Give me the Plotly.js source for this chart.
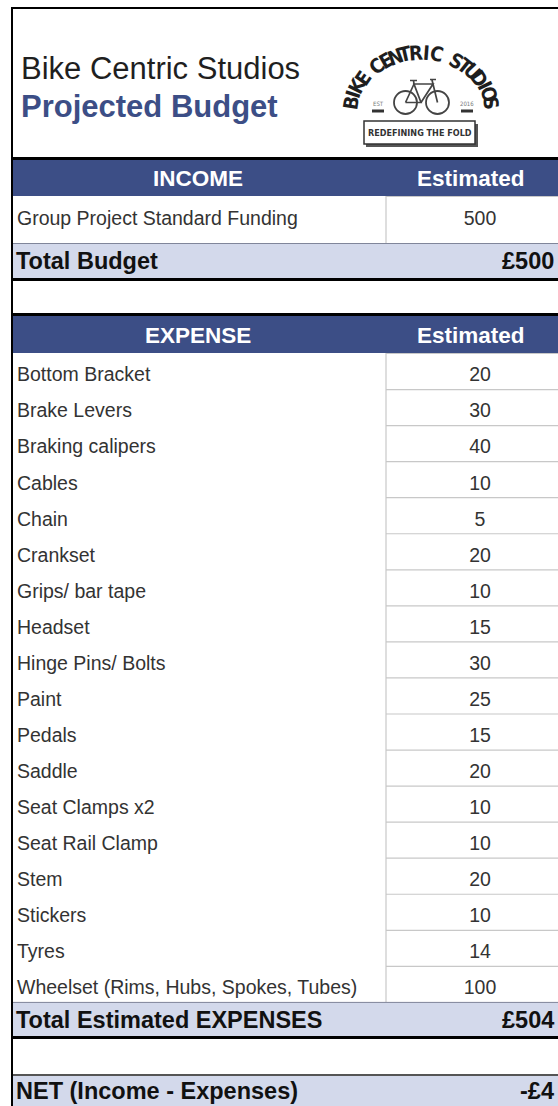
<!DOCTYPE html>
<html>
<head>
<meta charset="utf-8">
<script src="https://cdn.plot.ly/plotly-3.0.1.min.js"></script>
<style>html,body{margin:0;padding:0;background:#fff;}#chart{width:558px;height:1106px;}</style>
</head>
<body>
<div id="chart"></div>
<script>
// ---- data ----
const titleLine1 = "Bike Centric Studios";
const titleLine2 = "Projected Budget";
const incomeHeader = ["INCOME", "Estimated"];
const incomeLabels = ["Group Project Standard Funding"];
const incomeValues = [500];
const expenseHeader = ["EXPENSE", "Estimated"];
const expenseLabels = [
  "Bottom Bracket", "Brake Levers", "Braking calipers", "Cables", "Chain",
  "Crankset", "Grips/ bar tape", "Headset", "Hinge Pins/ Bolts", "Paint",
  "Pedals", "Saddle", "Seat Clamps x2", "Seat Rail Clamp", "Stem",
  "Stickers", "Tyres", "Wheelset (Rims, Hubs, Spokes, Tubes)"
];
const expenseValues = [20, 30, 40, 10, 5, 20, 10, 15, 30, 25, 15, 20, 10, 10, 20, 10, 14, 100];
const summaryLabels = ["Total Budget", "Total Estimated EXPENSES", "NET (Income - Expenses)"];
const summaryValues = ["£500", "£504", "-£4"];
const logoArcText = "BIKE CENTRIC STUDIOS";
const logoTagline = "REDEFINING THE FOLD";

// ---- geometry ----
const W = 558, H = 1106;
const L = 12, R = 558, DIV = 386;
const BLUE = "#3c4e86", BAND = "#d3d9eb", GRID = "#c8c8c8";
const FONT = "'Liberation Sans', Arial, Helvetica, sans-serif";
const NARROW = "'Liberation Sans Narrow', 'DejaVu Sans Condensed', 'Arial Narrow', sans-serif";
const expTop = 353, rowH = 36.05;
const expRowTop = i => expTop + rowH * i;
const expTextY = i => expRowTop(i) + 23.5;
const expBottom = expRowTop(expenseLabels.length);

const shapes = [];
function rect(x0, y0, x1, y1, fill) {
  shapes.push({type: "rect", xref: "x", yref: "y", x0, y0, x1, y1, fillcolor: fill, line: {width: 0}, layer: "below"});
}
function line(x0, y0, x1, y1, color, width) {
  shapes.push({type: "line", xref: "x", yref: "y", x0, y0, x1, y1, line: {color, width}, layer: "below"});
}

// bands
rect(L, 160, R, 196, BLUE);
rect(L, 243, R, 278, BAND);
rect(L, 316, R, expTop, BLUE);
rect(L, expBottom, R, 1036, BAND);
rect(L, 1076, R, H, BAND);

// income value cell
line(DIV, 196.5, R, 196.5, GRID, 1);
line(DIV, 196, DIV, 243, GRID, 1.2);
// expense value cells
for (let i = 0; i < expenseLabels.length; i++) {
  line(DIV, expRowTop(i) + 0.5, R, expRowTop(i) + 0.5, GRID, 1.2);
}
line(DIV, expTop, DIV, expBottom, GRID, 1.2);

// band separators
line(L, 243.5, R, 243.5, "#80869a", 1);
line(L, expBottom + 0.5, R, expBottom + 0.5, "#80869a", 1);
line(L, 1075, R, 1075, "#555555", 2);

// black rules
line(L - 1, 8, R, 8, "#000", 2);
line(L, 8, L, H, "#000", 2);
line(L - 1, 158.5, R, 158.5, "#000", 3);
line(L - 1, 279.5, R, 279.5, "#000", 3);
line(L - 1, 314.5, R, 314.5, "#000", 3);
line(L - 1, 1037.5, R, 1037.5, "#000", 3);

// ---- logo ----
const cx = 421, cy = 112, rx = 71, ry = 59;
const annotations = [];
const chars = logoArcText.split("");
const a0 = 171, a1 = 9;
chars.forEach((ch, k) => {
  if (ch === " ") return;
  const th = a0 + (a1 - a0) * k / (chars.length - 1);
  const t = th * Math.PI / 180;
  annotations.push({
    xref: "x", yref: "y", x: cx + rx * Math.cos(t), y: cy - ry * Math.sin(t),
    text: "<b>" + ch + "</b>", showarrow: false, textangle: 90 - th,
    xanchor: "center", yanchor: "middle",
    font: {family: NARROW, size: 20, color: "#1e1e1e"}
  });
});
// bicycle
const bikeCol = "#444";
shapes.push({type: "circle", xref: "x", yref: "y", x0: 394, y0: 91, x1: 417, y1: 114, line: {color: bikeCol, width: 1.8}});
shapes.push({type: "circle", xref: "x", yref: "y", x0: 426, y0: 91, x1: 449, y1: 114, line: {color: bikeCol, width: 1.8}});
shapes.push({type: "path", xref: "x", yref: "y",
  path: "M405.5,102.5 L421,102.5 L414,84 L433,84 L421,102.5 M405.5,102.5 L414,84 M433,84 L437.5,102.5 M433,84 L432,80 M410,80.5 L417,80.5 M414,84 L413.5,80.5 M430,79.5 L436,79.5",
  line: {color: bikeCol, width: 1.7}});
// EST / 2016 marks
line(372, 111, 384, 111, "#333", 3);
line(461, 111, 473, 111, "#333", 3);
annotations.push({xref: "x", yref: "y", x: 378, y: 103, text: "EST", showarrow: false, font: {family: NARROW, size: 6, color: "#777"}});
annotations.push({xref: "x", yref: "y", x: 467, y: 103, text: "2016", showarrow: false, font: {family: NARROW, size: 6, color: "#777"}});
// tagline box
shapes.push({type: "rect", xref: "x", yref: "y", x0: 366, y0: 124, x1: 478, y1: 147, fillcolor: "#555", line: {width: 0}});
shapes.push({type: "rect", xref: "x", yref: "y", x0: 364, y0: 121, x1: 475, y1: 144, fillcolor: "#fff", line: {color: "#333", width: 1.5}});
annotations.push({xref: "x", yref: "y", x: 419.5, y: 132.5, text: "<b>" + logoTagline + "</b>", showarrow: false,
  font: {family: NARROW, size: 9, color: "#333"}});

// ---- titles ----
annotations.push({xref: "x", yref: "y", x: 19, y: 68, xanchor: "left", yanchor: "middle", showarrow: false,
  text: titleLine1, font: {family: FONT, size: 31, color: "#1f1f1f"}});
annotations.push({xref: "x", yref: "y", x: 19, y: 106, xanchor: "left", yanchor: "middle", showarrow: false,
  text: "<b>" + titleLine2 + "</b>", font: {family: FONT, size: 31, color: BLUE}});

// ---- headers ----
function hdr(text, x, y) {
  annotations.push({xref: "x", yref: "y", x, y, xanchor: "center", yanchor: "middle", showarrow: false,
    text: "<b>" + text + "</b>", font: {family: FONT, size: 22.5, color: "#fff"}});
}
hdr(incomeHeader[0], 198, 178.5);
hdr(incomeHeader[1], 471, 178.5);
hdr(expenseHeader[0], 198, 335);
hdr(expenseHeader[1], 471, 335);

// ---- summary rows ----
const summaryY = [261, 1019.5, 1091];
summaryLabels.forEach((s, i) => {
  annotations.push({xref: "x", yref: "y", x: 14, y: summaryY[i], xanchor: "left", yanchor: "middle", showarrow: false,
    text: "<b>" + s + "</b>", font: {family: FONT, size: 23.5, color: "#111"}});
  annotations.push({xref: "x", yref: "y", x: 556, y: summaryY[i], xanchor: "right", yanchor: "middle", showarrow: false,
    text: "<b>" + summaryValues[i] + "</b>", font: {family: FONT, size: 23.5, color: "#111"}});
});

// ---- data traces ----
const txtFont = {family: FONT, size: 19.5, color: "#333"};
const traces = [
  {type: "scatter", mode: "text", x: incomeLabels.map(() => 17), y: incomeLabels.map(() => 220),
   text: incomeLabels, textposition: "middle right", textfont: txtFont, hoverinfo: "skip", cliponaxis: false},
  {type: "scatter", mode: "text", x: incomeValues.map(() => 480), y: incomeValues.map(() => 220),
   text: incomeValues.map(String), textposition: "middle center", textfont: txtFont, hoverinfo: "skip", cliponaxis: false},
  {type: "scatter", mode: "text", x: expenseLabels.map(() => 17), y: expenseLabels.map((_, i) => expTextY(i)),
   text: expenseLabels, textposition: "middle right", textfont: txtFont, hoverinfo: "skip", cliponaxis: false},
  {type: "scatter", mode: "text", x: expenseValues.map(() => 480), y: expenseValues.map((_, i) => expTextY(i)),
   text: expenseValues.map(String), textposition: "middle center", textfont: txtFont, hoverinfo: "skip", cliponaxis: false}
];

const layout = {
  width: W, height: H,
  margin: {l: 0, r: 0, t: 0, b: 0, pad: 0},
  paper_bgcolor: "#fff", plot_bgcolor: "#fff",
  showlegend: false,
  xaxis: {range: [0, W], visible: false, fixedrange: true},
  yaxis: {range: [H, 0], visible: false, fixedrange: true},
  shapes, annotations
};
Plotly.newPlot("chart", traces, layout, {displayModeBar: false, staticPlot: true});
</script>
</body>
</html>
